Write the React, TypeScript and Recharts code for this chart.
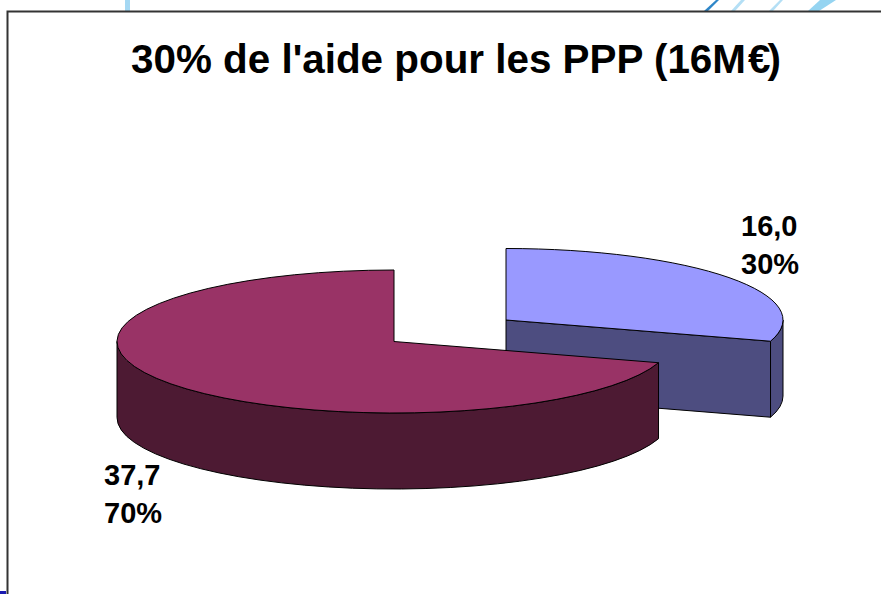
import { Pie, PieChart } from "recharts";

const NAMES = ["PPP", "Autres"];
const AMOUNTS = [16.0, 37.7];
const TOP_COLORS = ["#9999FF", "#993366"];
const SIDE_COLORS = ["#4D4D80", "#4D1A33"];

const CX = 394;
const CY = 341.5;
const RX = 277;
const RY = 71.5;
const DEPTH = 76;
// the 30% slice is pulled away from the rest
const EXPLODE = [
  [112, -21.5],
  [0, 0],
];
const LABEL_POS = [
  [741, 236],
  [104, 485],
];

const rows = NAMES.map((name, i) => ({
  name,
  value: AMOUNTS[i],
  fill: TOP_COLORS[i],
  slice: i,
}));

const rad = (a: number) => (a * Math.PI) / 180;

function Slice3D(props: any) {
  const { startAngle, endAngle, cx, cy, outerRadius } = props;
  const slice = props.slice ?? props.payload?.slice ?? 0;
  const [dx, dy] = EXPLODE[slice];
  const k = RY / RX;
  const ox = cx + dx;
  const oy = cy + dy;
  const px = (a: number) => ox + outerRadius * Math.cos(rad(a));
  const py = (a: number) => oy - outerRadius * k * Math.sin(rad(a));
  const ry = outerRadius * k;
  const arc = (a: number, y = 0, sweep = 1, large = 0) =>
    `A${outerRadius} ${ry} 0 ${large} ${sweep} ${px(a)} ${py(a) + y}`;

  const big = startAngle - endAngle > 180 ? 1 : 0;
  const top = `M${ox} ${oy}L${px(startAngle)} ${py(startAngle)}${arc(endAngle, 0, 1, big)}Z`;

  // only the front half of the rim can be seen
  const from = Math.min(startAngle, 0);
  const to = Math.max(endAngle, -180);
  const rim =
    from > to
      ? `M${px(from)} ${py(from)}${arc(to)}L${px(to)} ${py(to) + DEPTH}${arc(from, DEPTH, 0)}Z`
      : null;

  const endWall =
    Math.cos(rad(endAngle)) > 0.001
      ? `M${ox} ${oy}L${px(endAngle)} ${py(endAngle)}L${px(endAngle)} ${py(endAngle) + DEPTH}L${ox} ${oy + DEPTH}Z`
      : null;

  const edge = { stroke: "#000", strokeWidth: 1, strokeLinejoin: "round" as const };
  return (
    <g>
      {endWall && <path d={endWall} fill={SIDE_COLORS[slice]} {...edge} />}
      {rim && <path d={rim} fill={SIDE_COLORS[slice]} {...edge} />}
      <path d={top} fill={TOP_COLORS[slice]} {...edge} />
    </g>
  );
}

function sliceLabel(props: any) {
  const slice = props.slice ?? props.payload?.slice ?? props.index;
  const [x, y] = LABEL_POS[slice];
  const style = { fontFamily: "Liberation Sans", fontWeight: 700, fontSize: 29, fill: "#000" };
  return (
    <g key={slice}>
      <text x={x} y={y} {...style}>
        {props.value.toFixed(1).replace(".", ",")}
      </text>
      <text x={x} y={y + 38} {...style}>
        {Math.round(props.percent * 100)}%
      </text>
    </g>
  );
}

export default function App() {
  return (
    <div style={{ position: "absolute", left: 0, top: 0, width: 881, height: 594, background: "#fff" }}>
      <PieChart width={881} height={594} margin={{ top: 0, right: 0, bottom: 0, left: 0 }}>
        {/* bits of the slide background showing above the frame */}
        <g>
          <polygon points="125,0 130,0 130,11 125,11" fill="#A5D8F3" />
          <polygon points="716,0 719,0 708,11 704,11" fill="#2E86C8" />
          <polygon points="741,0 745,0 735,11 731,11" fill="#B4DFF5" />
          <polygon points="780,0 783,0 773,11 769,11" fill="#B4DFF5" />
          <polygon points="820,0 836,0 819,11 808,11" fill="#95D4F1" />
          <rect x={0} y={591} width={6} height={3} fill="#1A1AB0" />
        </g>
        <path d="M881 11.5H7.5V594" fill="none" stroke="#333" strokeWidth={2} />
        <text
          x={131}
          y={73}
          fontFamily="Liberation Sans"
          fontWeight={700}
          fontSize={40.4}
          fill="#000"
        >
          30% de l'aide pour les PPP (16M
          <tspan dx={2}>€</tspan>
          <tspan dx={-3}>)</tspan>
        </text>
        <Pie
          data={rows}
          dataKey="value"
          nameKey="name"
          cx={CX}
          cy={CY}
          innerRadius={0}
          outerRadius={RX}
          startAngle={90}
          endAngle={-270}
          paddingAngle={0}
          stroke="none"
          shape={Slice3D}
          label={sliceLabel}
          labelLine={false}
          isAnimationActive={false}
        />
      </PieChart>
    </div>
  );
}
